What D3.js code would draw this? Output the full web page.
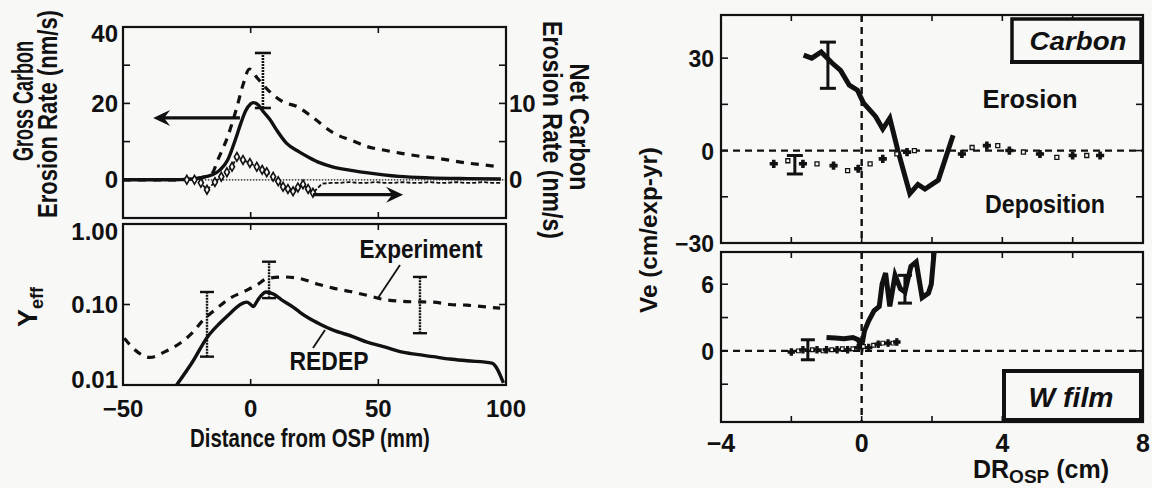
<!DOCTYPE html>
<html><head><meta charset="utf-8">
<script src="https://cdn.jsdelivr.net/npm/d3@7"></script>
<style>
html,body{margin:0;padding:0;background:#f8f8f7;}
svg{display:block;}
text{font-family:"Liberation Sans",Arial,sans-serif;font-weight:bold;fill:#111;}
</style>
</head><body>
<svg id="c" width="1152" height="488"></svg>
<script>
// ---------------- DATA ----------------
const distTicks = [-50, 0, 50, 100];
const distTickLabels = ["\u221250", "0", "50", "100"];
const grossTicks = [0, 20, 40];
const netTicks = [0, 10];
const yeffTicks = [0.01, 0.1, 1];
const yeffTickLabels = ["0.01", "0.10", "1.00"];
const drTicks = [-4, 0, 4, 8];
const drTickLabels = ["\u22124", "0", "4", "8"];
const veCarbonTicks = [-30, 0, 30];
const veCarbonTickLabels = ["\u221230", "0", "30"];
const veWTicks = [0, 6];

// Gross carbon erosion rate (nm/s), REDEP (solid)
const grossRedepX = [-50,-40,-30,-25,-20,-15,-12,-9,-6,-4,-2,0,1,3,5,7.6,10,14,19,23,27,32,40,46,52,58,70,85,98];
const grossRedepY = [0,0,0,0.1,0.5,1.3,2.6,5.2,10.5,14.5,18,19.9,20.2,19.6,17.8,15.7,13.2,9.6,7.3,5.8,4.5,3.4,2.4,1.8,1.3,0.9,0.5,0.3,0.2];
// Gross carbon erosion rate, experiment (dashed)
const grossExpX = [-50,-40,-30,-22,-18,-15,-13,-9,-5.4,-2.8,-0.5,2.5,6.8,12.7,18.1,24.4,32.3,40,45.6,52,58.5,65,71.4,78,84.7,91,97.7];
const grossExpY = [0,0,0,0.3,0.8,1.8,5,11.3,19,25.3,29,26.7,23.5,20.4,19.2,16.3,12.3,10.2,8.7,7.8,7,6.3,5.8,5.1,4.4,3.9,3.4];
// Net carbon erosion rate (nm/s), right axis (markers)
const netX = [-25,-22,-19.5,-17.1,-14,-11.5,-9.3,-7.3,-5.4,-3,-0.3,2.4,4.5,6.3,8.8,10.8,12.7,14.6,16.6,18.5,20.5,22.5,24.4,28,31.5,35,38.5,42,45.5,49,52.5,56,59.5,63,66.5,70,73.5,77,80.5,84,87.5,91,94.5,98];
const netY = [0,0,-0.4,-1.3,-0.3,0.4,1,1.7,3,2.6,2.2,1.7,1.3,1,0.4,-0.2,-0.9,-1.2,-1.5,-1,-0.6,-1.2,-1.7,-0.5,-0.4,-0.4,-0.3,-0.4,-0.4,-0.3,-0.4,-0.4,-0.3,-0.4,-0.4,-0.3,-0.4,-0.4,-0.3,-0.4,-0.4,-0.3,-0.4,-0.4];
const grossErrX = [4.8], grossErrLo = [18.8], grossErrHi = [33.2];

// Effective yield, REDEP (solid) and experiment (dashed)
const yeffRedepX = [-29,-22.5,-17.2,-12,-8,-5.4,-3,-1.5,0,1,2.5,4,6,8.9,12,16.6,19.3,23,27.2,32.3,40,45.6,52,58.5,65,71.4,78,84.7,94.5,99];
const yeffRedepY = [0.01,0.02,0.0384,0.059,0.078,0.093,0.104,0.107,0.1,0.094,0.11,0.128,0.143,0.135,0.115,0.093,0.08,0.067,0.057,0.048,0.04,0.034,0.03,0.026,0.024,0.0225,0.021,0.02,0.0187,0.0106];
const yeffExpX = [-49.5,-44.5,-39.4,-33.5,-27.7,-23,-18.6,-13.2,-8.1,-3,2.5,6.4,12.7,19.3,26,32.3,39,45.6,51.8,58,64,71.4,78,84.7,91,97.7];
const yeffExpY = [0.038,0.026,0.022,0.026,0.033,0.044,0.064,0.09,0.12,0.143,0.175,0.21,0.22,0.21,0.18,0.16,0.145,0.13,0.116,0.11,0.108,0.107,0.1,0.098,0.094,0.09];
const yeffErrX = [-17.1, 7.2, 66.3];
const yeffErrLo = [0.0225, 0.12, 0.044];
const yeffErrHi = [0.143, 0.34, 0.22];

// Ve, carbon: net erosion (thick) and deposition markers
const carbonEroX = [-1.65,-1.42,-1.15,-0.85,-0.6,-0.35,-0.12,0.05,0.4,0.6,0.8,1.03,1.37,1.6,1.8,2.18,2.6];
const carbonEroY = [31,30,32,28.5,26,21.2,19.6,15.5,11,7,10.5,0,-14,-11,-12.5,-9.6,5];
const carbonDepX = [-2.5,-2.1,-1.67,-1.27,-0.8,-0.4,-0.1,0.24,0.6,1.0,1.29,1.5,2.85,3.14,3.56,3.87,4.2,4.6,5.07,5.55,6.0,6.4,6.78];
const carbonDepY = [-4.3,-3.3,-4.3,-4.3,-4.9,-6.5,-5.9,-4.3,-2.7,-1.1,-0.5,0,-1.1,1,1.6,1.6,0,-0.5,-1.1,-2.2,-1.6,-1.6,-1.6];
const carbonErrX = [-0.96, -1.9], carbonErrLo = [20.2, -7.6], carbonErrHi = [35.2, -1.6];

// Ve, W film
const wEroX = [-1.0,-0.75,-0.5,-0.25,-0.1,0.0,0.08,0.2,0.35,0.5,0.58,0.68,0.8,0.95,1.1,1.23,1.4,1.55,1.72,1.9,1.98,2.08];
const wEroY = [1.2,1.15,1.1,1.2,1.0,0.4,1.8,2.7,3.6,4.0,6.0,7.0,4.0,6.8,5.6,5.3,7.6,8.0,4.8,5.2,6,9.6];
const wDepX = [-2,-1.8,-1.67,-1.4,-1.27,-1.1,-1,-0.85,-0.7,-0.55,-0.4,-0.25,-0.1,0.05,0.2,0.34,0.47,0.6,0.75,0.89,1.0];
const wDepY = [-0.1,0,0.1,0.1,0.1,0,0.1,0.1,0.1,0.2,0.1,0.2,0.3,0.4,0.3,0.5,0.6,0.7,0.7,0.7,0.8];
const wErrX = [1.23, -1.53], wErrLo = [4.3, -0.8], wErrHi = [6.8, 1.0];

// ---------------- DRAW ----------------
const ink = "#111";
const bg = "#f8f8f7";
const svg = d3.select("#c");

const xL = d3.scaleLinear([-50, 100], [123, 506]);
const yG = d3.scaleLinear([-10, 40], [218, 27]);
const yN = d3.scaleLinear([-5, 20], [218, 27]);
const yY = d3.scaleLog([0.01, 1], [385, 224]);
const xR = d3.scaleLinear([-4, 8], [721, 1143]);
const yC = d3.scaleLinear([-30, 44], [243, 15]);
const yW = d3.scaleLinear([-6.4, 8.9], [422, 252]);

const defs = svg.append("defs");
function clip(id, x0, x1, y0, y1) {
  defs.append("clipPath").attr("id", id).append("rect")
    .attr("x", x0).attr("y", y0).attr("width", x1 - x0).attr("height", y1 - y0);
  return svg.append("g").attr("clip-path", `url(#${id})`);
}
function frame(x0, x1, y0, y1) {
  svg.append("rect").attr("x", x0).attr("y", y0).attr("width", x1 - x0).attr("height", y1 - y0)
    .attr("fill", "none").attr("stroke", ink).attr("stroke-width", 2.2);
}
function tickLine(x1, y1, x2, y2) {
  svg.append("line").attr("x1", x1).attr("y1", y1).attr("x2", x2).attr("y2", y2)
    .attr("stroke", ink).attr("stroke-width", 1.6);
}
function txt(x, y, s, size, anchor) {
  return svg.append("text").attr("x", x).attr("y", y).attr("font-size", size)
    .attr("text-anchor", anchor || "middle").text(s);
}
function stxt(x, y, rot, s, size, len, italic) {
  const g = svg.append("g").attr("transform", `translate(${x},${y}) rotate(${rot})`);
  const t = g.append("text").attr("font-size", size).attr("text-anchor", "middle").text(s);
  if (italic) t.attr("font-style", "italic");
  const L = t.node().getComputedTextLength();
  t.attr("transform", `scale(${len / L},1)`);
  return t;
}
function errBar(g, x, lo, hi, sx, sy, w, sw, dash) {
  g.append("line").attr("x1", sx(x)).attr("x2", sx(x)).attr("y1", sy(lo)).attr("y2", sy(hi))
    .attr("stroke", ink).attr("stroke-width", sw).attr("stroke-dasharray", dash || null);
  [lo, hi].forEach(v => g.append("line").attr("x1", sx(x) - w).attr("x2", sx(x) + w)
    .attr("y1", sy(v)).attr("y2", sy(v)).attr("stroke", ink).attr("stroke-width", sw));
}
function arrow(x1, y1, x2, y2) {
  const dir = Math.sign(x2 - x1);
  svg.append("line").attr("x1", x1).attr("y1", y1).attr("x2", x2 - dir * 10).attr("y2", y2)
    .attr("stroke", ink).attr("stroke-width", 3.2);
  svg.append("path").attr("fill", ink)
    .attr("d", `M${x2},${y2} L${x2 - dir * 17},${y2 - 8} L${x2 - dir * 11},${y2} L${x2 - dir * 17},${y2 + 8} Z`);
}

// ===== Left top panel =====
const gLT = clip("clt", 123, 506, 27, 218);
gLT.append("line").attr("x1", xL(-25)).attr("x2", xL(100)).attr("y1", yN(0)).attr("y2", yN(0))
  .attr("stroke", ink).attr("stroke-width", 1.3).attr("stroke-dasharray", "1.5,1.5");
const lG = d3.line().x(d => xL(d[0])).y(d => yG(d[1])).curve(d3.curveMonotoneX);
gLT.append("path").attr("d", lG(d3.zip(grossRedepX, grossRedepY)))
  .attr("fill", "none").attr("stroke", ink).attr("stroke-width", 3.4);
gLT.append("path").attr("d", lG(d3.zip(grossExpX, grossExpY)))
  .attr("fill", "none").attr("stroke", ink).attr("stroke-width", 3.2).attr("stroke-dasharray", "8,7");
const lN = d3.line().x(d => xL(d[0])).y(d => yN(d[1]));
gLT.append("path").attr("d", lN(d3.zip(netX, netY)))
  .attr("fill", "none").attr("stroke", ink).attr("stroke-width", 1.8).attr("stroke-dasharray", "4,2");
gLT.selectAll("path.net").data(d3.zip(netX, netY).filter(d => d[0] <= 25)).join("path").attr("class", "net")
  .attr("transform", d => `translate(${xL(d[0])},${yN(d[1])})`)
  .attr("d", d3.symbol(d3.symbolDiamond, 22)).attr("fill", bg).attr("stroke", ink).attr("stroke-width", 1.6);
grossErrX.forEach((x, i) => errBar(gLT, x, grossErrLo[i], grossErrHi[i], xL, yG, 8, 2.6, "2,1"));
frame(123, 506, 27, 218);
[10, 20, 30].forEach(v => tickLine(123, yG(v), 130, yG(v)));
[5, 10, 15].forEach(v => tickLine(506, yN(v), 499, yN(v)));
[0, 50].forEach(v => { tickLine(xL(v), 27, xL(v), 33); tickLine(xL(v), 218, xL(v), 212); });
grossTicks.forEach(v => txt(118, v === 40 ? 42 : yG(v) + 8.5, String(v), 24, "end"));
netTicks.forEach(v => txt(509, yN(v) + 8.5, String(v), 24, "start"));
arrow(xL(-4.2), yG(16.2), xL(-38.2), yG(16.2));
arrow(xL(24.4), yN(-1.95), xL(59.7), yN(-1.95));

// ===== Left bottom panel =====
const gLB = clip("clb", 123, 506, 224, 385);
const lY = d3.line().x(d => xL(d[0])).y(d => yY(d[1])).curve(d3.curveMonotoneX);
gLB.append("path").attr("d", lY(d3.zip(yeffRedepX, yeffRedepY)))
  .attr("fill", "none").attr("stroke", ink).attr("stroke-width", 3.4);
gLB.append("path").attr("d", lY(d3.zip(yeffExpX, yeffExpY)))
  .attr("fill", "none").attr("stroke", ink).attr("stroke-width", 3.2).attr("stroke-dasharray", "8,7");
yeffErrX.forEach((x, i) => errBar(gLB, x, yeffErrLo[i], yeffErrHi[i], xL, yY, 7, 2.4, "2,1"));
frame(123, 506, 224, 385);
tickLine(123, yY(0.1), 130, yY(0.1)); tickLine(506, yY(0.1), 499, yY(0.1));
[0, 50].forEach(v => { tickLine(xL(v), 224, xL(v), 230); tickLine(xL(v), 385, xL(v), 379); });
const yeffLabelY = [388, yY(0.1) + 8.5, 240];
yeffTicks.forEach((v, i) => txt(118, yeffLabelY[i], yeffTickLabels[i], 24, "end"));
distTicks.forEach((v, i) => txt(xL(v), 417, distTickLabels[i], 24, "middle"));
stxt(421, 258, 0, "Experiment", 25, 123);
svg.append("line").attr("x1", 400).attr("y1", 265).attr("x2", 378).attr("y2", 298).attr("stroke", ink).attr("stroke-width", 1.8);
stxt(329, 370, 0, "REDEP", 26, 79);
svg.append("line").attr("x1", 325).attr("y1", 330).attr("x2", 313).attr("y2", 348).attr("stroke", ink).attr("stroke-width", 1.8);
stxt(310, 447, 0, "Distance from OSP (mm)", 25, 240);
// axis titles
stxt(33, 101, -90, "Gross Carbon", 29, 120);
stxt(57, 114, -90, "Erosion Rate (nm/s)", 27, 208);
stxt(570, 127, 90, "Net Carbon", 27, 127);
stxt(543, 130, 90, "Erosion Rate (nm/s)", 27, 218);
const yeff = svg.append("text").attr("transform", "translate(37,307) rotate(-90)").attr("text-anchor", "middle");
yeff.append("tspan").attr("font-size", 27).text("Y");
yeff.append("tspan").attr("font-size", 18).attr("dy", 6).text("eff");

// ===== Right top panel =====
const gRT = clip("crt", 721, 1143, 15, 243);
gRT.append("line").attr("x1", 721).attr("x2", 1143).attr("y1", yC(0)).attr("y2", yC(0))
  .attr("stroke", ink).attr("stroke-width", 2.2).attr("stroke-dasharray", "7,5");
gRT.append("line").attr("x1", xR(0)).attr("x2", xR(0)).attr("y1", 15).attr("y2", 243)
  .attr("stroke", ink).attr("stroke-width", 2.4).attr("stroke-dasharray", "7,5");
const lC = d3.line().x(d => xR(d[0])).y(d => yC(d[1]));
gRT.append("path").attr("d", lC(d3.zip(carbonEroX, carbonEroY)))
  .attr("fill", "none").attr("stroke", ink).attr("stroke-width", 5);
gRT.selectAll("path.cdep").data(d3.zip(carbonDepX, carbonDepY)).join("path").attr("class", "cdep")
  .attr("transform", d => `translate(${xR(d[0])},${yC(d[1])})`)
  .attr("d", (d, i) => d3.symbol(i % 2 ? d3.symbolSquare : d3.symbolCross, i % 2 ? 16 : 26)())
  .attr("fill", (d, i) => i % 2 ? bg : ink).attr("stroke", ink).attr("stroke-width", 1.3);
carbonErrX.forEach((x, i) => errBar(gRT, x, carbonErrLo[i], carbonErrHi[i], xR, yC, 8, 3));
frame(721, 1143, 15, 243);
[30, 15, 0, -15].forEach(v => { tickLine(721, yC(v), 728, yC(v)); tickLine(1143, yC(v), 1136, yC(v)); });
[-2, 0, 2, 4, 6].forEach(v => { tickLine(xR(v), 15, xR(v), 21); tickLine(xR(v), 243, xR(v), 237); });
veCarbonTicks.forEach((v, i) => txt(714, yC(v) + 9, veCarbonTickLabels[i], 23, "end"));
svg.append("rect").attr("x", 1012).attr("y", 19).attr("width", 129).attr("height", 43)
  .attr("fill", bg).attr("stroke", ink).attr("stroke-width", 3.5);
svg.append("line").attr("x1", 1010).attr("x2", 1143).attr("y1", 62).attr("y2", 62).attr("stroke", ink).attr("stroke-width", 4);
stxt(1078, 50, 0, "Carbon", 25, 97, true);
stxt(1030, 108, 0, "Erosion", 25, 95);
stxt(1045, 213, 0, "Deposition", 25, 120);

// ===== Right bottom panel =====
const gRB = clip("crb", 721, 1143, 252, 422);
gRB.append("line").attr("x1", 721).attr("x2", 1143).attr("y1", yW(0)).attr("y2", yW(0))
  .attr("stroke", ink).attr("stroke-width", 2.2).attr("stroke-dasharray", "7,5");
gRB.append("line").attr("x1", xR(0)).attr("x2", xR(0)).attr("y1", 252).attr("y2", 422)
  .attr("stroke", ink).attr("stroke-width", 2.4).attr("stroke-dasharray", "7,5");
const lW = d3.line().x(d => xR(d[0])).y(d => yW(d[1]));
gRB.append("path").attr("d", lW(d3.zip(wEroX, wEroY)))
  .attr("fill", "none").attr("stroke", ink).attr("stroke-width", 5);
gRB.selectAll("path.wdep").data(d3.zip(wDepX, wDepY)).join("path").attr("class", "wdep")
  .attr("transform", d => `translate(${xR(d[0])},${yW(d[1])})`)
  .attr("d", (d, i) => d3.symbol(i % 2 ? d3.symbolSquare : d3.symbolCross, i % 2 ? 14 : 22)())
  .attr("fill", (d, i) => i % 2 ? bg : ink).attr("stroke", ink).attr("stroke-width", 1.2);
wErrX.forEach((x, i) => errBar(gRB, x, wErrLo[i], wErrHi[i], xR, yW, 7, 3));
frame(721, 1143, 252, 422);
[6, 3, 0, -3].forEach(v => { tickLine(721, yW(v), 728, yW(v)); tickLine(1143, yW(v), 1136, yW(v)); });
[-2, 0, 2, 4, 6].forEach(v => { tickLine(xR(v), 252, xR(v), 258); tickLine(xR(v), 422, xR(v), 416); });
veWTicks.forEach(v => txt(714, yW(v) + 9, String(v), 23, "end"));
drTicks.forEach((v, i) => txt(xR(v), 452, drTickLabels[i], 25, "middle"));
svg.append("rect").attr("x", 1004).attr("y", 371).attr("width", 137).attr("height", 49)
  .attr("fill", bg).attr("stroke", ink).attr("stroke-width", 4);
stxt(1071, 407, 0, "W film", 28, 85, true);
const xt = svg.append("text").attr("x", 973).attr("y", 478).attr("text-anchor", "start");
xt.append("tspan").attr("font-size", 25).text("DR");
xt.append("tspan").attr("font-size", 19).attr("dy", 5).text("OSP");
xt.append("tspan").attr("font-size", 25).attr("dy", -5).text(" (cm)");
stxt(657, 230, -90, "Ve (cm/exp-yr)", 24, 166);
</script>
</body></html>
